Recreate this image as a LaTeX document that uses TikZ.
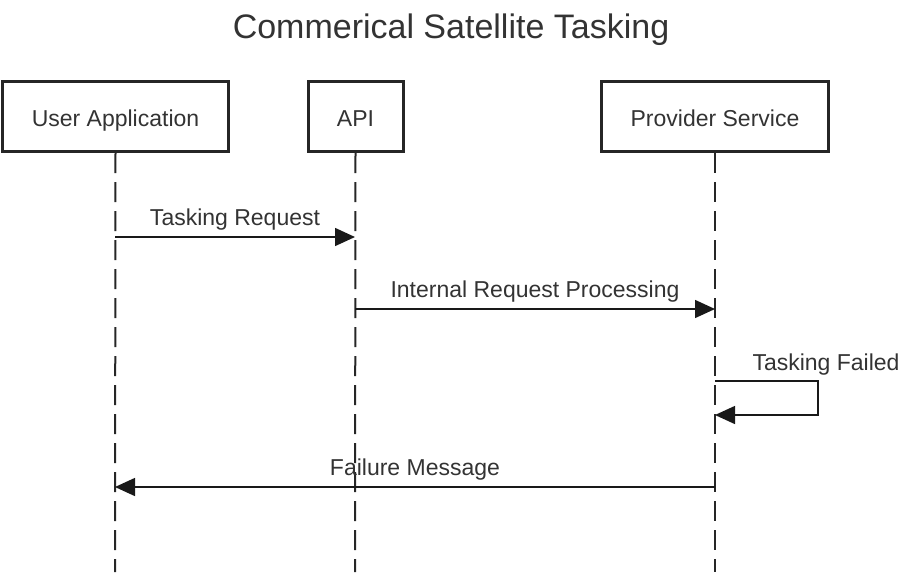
\documentclass[tikz,border=0pt]{standalone}
\usepackage{fontspec}
\setmainfont{Liberation Sans}
\usetikzlibrary{arrows.meta}
\definecolor{ink}{HTML}{333333}

\begin{document}
\begin{tikzpicture}[x=1pt,y=-1pt,>={Triangle[length=20pt,width=18pt]},
  actor/.style={draw=black!85,line width=3pt,minimum height=70pt,text=ink,
    text height=19pt,text depth=0pt,font=\fontsize{23}{27}\selectfont},
  life/.style={draw=black!85,line width=2pt,dash pattern=on 20pt off 9pt},
  msg/.style={draw=black!90,line width=1.5pt,->},
  lbl/.style={text=ink,font=\fontsize{23}{27}\selectfont},
  msglbl/.style={lbl,midway,anchor=base,yshift=12pt}]
  \useasboundingbox (0,0) rectangle (908,574);
  \node[text=ink,anchor=base,font=\fontsize{34}{40}\selectfont] (title) at (451,38) {Commerical Satellite Tasking};
  % participants
  \node[actor,minimum width=226pt] (ua) at (115.5,116.5) {User Application};
  \node[actor,minimum width=95pt] (api) at (355.5,116.5) {API};
  \node[actor,minimum width=227pt] (ps) at (715,116.5) {Provider Service};
  \coordinate (uaend) at (115,572); \coordinate (apiend) at (355,572);
  \coordinate (psend) at (715,572);
  \draw[life] (ua.south) -- (uaend); \draw[life] (api.south) -- (apiend);
  \draw[life] (ps.south) -- (psend);
  % messages
  \coordinate (m1a) at (115,237); \coordinate (m1b) at (355,237);
  \draw[msg] (m1a) -- (m1b) node[msglbl] (l1) {Tasking Request};
  \coordinate (m2a) at (355,309); \coordinate (m2b) at (715,309);
  \draw[msg] (m2a) -- (m2b) node[msglbl] (l2) {Internal Request Processing};
  \coordinate (m3a) at (715,381); \coordinate (m3b) at (715,415);
  \draw[msg] (m3a) -| (818,415) -- (m3b);
  \node[lbl,anchor=base west] (l3) at (749,370) {Tasking Failed};
  \coordinate (m4a) at (715,487); \coordinate (m4b) at (115,487);
  \draw[msg] (m4a) -- (m4b) node[msglbl] (l4) {Failure Message};
\end{tikzpicture}
\end{document}
